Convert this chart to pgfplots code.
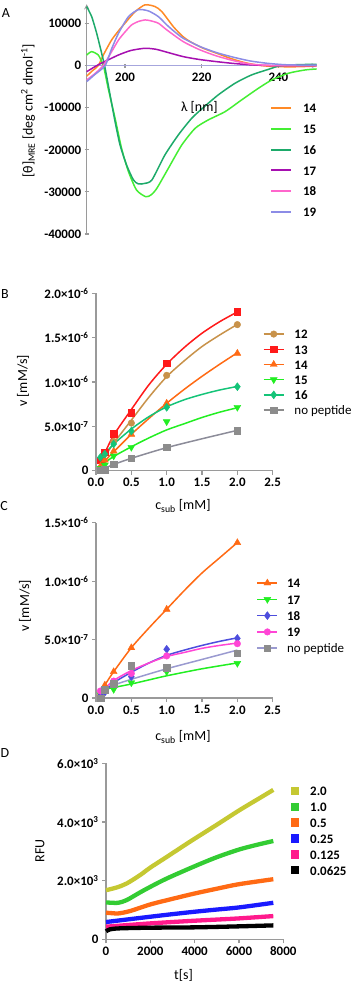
\documentclass[border=0pt]{standalone}
\usepackage{fontspec}
\setmainfont{Carlito}
\usepackage{pgfplots}
\pgfplotsset{compat=1.18}

% panel A
\definecolor{aA}{HTML}{FF8A26}
\definecolor{aB}{HTML}{44EE33}
\definecolor{aC}{HTML}{1DAA6A}
\definecolor{aD}{HTML}{A610B0}
\definecolor{aE}{HTML}{FF66CC}
\definecolor{aF}{HTML}{8C8CE6}
\definecolor{zeroline}{HTML}{A6A6DD}
% panels B, C
\definecolor{ctan}{HTML}{C8924A}
\definecolor{cred}{HTML}{FF1A1A}
\definecolor{corange}{HTML}{FF6A14}
\definecolor{cgreen}{HTML}{22EE22}
\definecolor{cteal}{HTML}{14C478}
\definecolor{cgray}{HTML}{8C8C8C}
\definecolor{cgrayline}{HTML}{8C8C99}
\definecolor{cblue}{HTML}{4D4DDD}
\definecolor{cpink}{HTML}{FF45D5}
\definecolor{clav}{HTML}{9A9AD0}
% panel D
\definecolor{dA}{HTML}{C5C832}
\definecolor{dB}{HTML}{33CC33}
\definecolor{dC}{HTML}{FF6A14}
\definecolor{dD}{HTML}{1A1AFF}
\definecolor{dE}{HTML}{FF1A8C}
\definecolor{dF}{HTML}{000000}
\definecolor{axgray}{HTML}{9A9A9A}

\newcommand{\tfont}{\fontsize{13}{13}\selectfont}
\newcommand{\lfont}{\fontsize{14}{14}\selectfont}

\pgfplotsset{
  prism/.style={
    scale only axis,
    anchor=south west,
    axis line style={draw=axgray, line width=1.3bp, -},
    every tick/.style={draw=axgray, line width=1.1bp},
    tick align=outside,
    major tick length=4bp,
    tick label style={font=\tfont\bfseries},
    label style={font=\lfont},
    scaled ticks=false,
    legend cell align=left,
    legend style={draw=none, fill=none, font=\tfont\bfseries, inner sep=0pt, outer sep=0pt,
      anchor=north west,
      nodes={inner sep=0pt, text height=9.5bp, text depth=0pt}},
    clip=false,
  },
  fitline/.style={line width=1.5bp, smooth, forget plot, mark=none},
  pts/.style={only marks, mark size=3.3bp, line width=0.4bp},
  mlegend/.style={legend image code/.code={
      \draw[##1, mark=none, line width=1.5bp] (0bp,0bp) -- (20bp,0bp);
      \draw[##1] plot coordinates {(10bp,0bp)};}},
  nopeplegend/.style={legend image code/.code={
      \draw[clav, line width=1.5bp] (0bp,0bp) -- (20bp,0bp);
      \draw[##1] plot coordinates {(10bp,0bp)};}},
}

\begin{document}
\begin{tikzpicture}
\path[use as bounding box] (0,0) rectangle (353bp,-982bp);

\node[font=\fontsize{14}{14}\selectfont] at (6bp,-13bp) {A};
\node[font=\fontsize{14}{14}\selectfont] at (5bp,-294bp) {B};
\node[font=\fontsize{14}{14}\selectfont] at (4bp,-506bp) {C};
\node[font=\fontsize{14}{14}\selectfont] at (5bp,-753bp) {D};

% ---------------- A: CD spectra
\begin{axis}[prism,
  at={(86.7bp,-234bp)}, width=230bp, height=229.8bp,
  xmin=190, xmax=250, ymin=-40000, ymax=14600,
  axis x line=middle, axis y line=left,
  x axis line style={draw=zeroline},
  hide obscured x ticks=false, hide obscured y ticks=false,
  xtick={200,220,240}, xticklabels={200,220,240},
  ytick={-40000,-30000,-20000,-10000,0,10000},
  yticklabels={-40000,-30000,-20000,-10000,0,10000},
  xticklabel style={yshift=-2bp},
  ylabel={[θ]\textsubscript{MRE} [deg cm\textsuperscript{2} dmol\textsuperscript{-1}]},
  ylabel style={at={(axis description cs:-0.255,0.536)}, anchor=center},
  legend style={at={(axis description cs:0.797,0.568)}, row sep=11.2bp, column sep=11bp},
  legend image code/.code={\draw[#1, line width=2bp] (0bp,0bp) -- (20bp,0bp);},
  every axis plot/.append style={line width=1.5bp, smooth, tension=0.4},
]
\addplot[aA] coordinates {(190,-2500) (191.5,-1200) (193,0) (194.5,2800) (196.5,6100) (198.5,8500) (200,10100) (202.6,12800) (205.2,14450) (207.8,14050) (209.6,12840) (212.6,9270) (215,7000) (217,5700) (220.4,4130) (223.9,2950) (227.4,1760) (230.9,800) (234.4,160) (237,-100) (240,-250) (245.7,-250) (250,-50)};
\addlegendentry{14}
\addplot[aB] coordinates {(190,2540) (191.3,3330) (193,2540) (193.9,950) (194.5,-500) (195.6,-5370) (197.4,-12500) (199.1,-19640) (200.9,-25190) (203,-29550) (205.4,-31140) (206.8,-30700) (208.3,-29150) (211.3,-24390) (214.8,-18850) (218.3,-14880) (221.7,-12900) (226.1,-10930) (230.4,-8150) (234.8,-5370) (238.3,-3400) (242.6,-1810) (247,-1020) (250,-790)};
\addlegendentry{15}
\addplot[aC] coordinates {(190,14030) (191.3,11650) (192.6,7700) (193.9,2950) (194.8,-620) (196.1,-6960) (197.4,-13300) (198.7,-18850) (200.4,-23600) (202.2,-27170) (203.5,-28100) (205,-28000) (207,-27170) (210.4,-21230) (213.9,-16470) (217.4,-12500) (220.5,-9900) (224.3,-6960) (228.7,-4180) (233,-2210) (238.3,-620) (240,-100) (244,200) (250,330)};
\addlegendentry{16}
\addplot[aD] coordinates {(190,-1430) (192.6,0) (195,1100) (198.3,2540) (201.5,3600) (205.2,4130) (208,3900) (210.4,3330) (215.2,2140) (219.5,1450) (223.9,950) (228,550) (232.6,200) (237,50) (240,0) (250,0)};
\addlegendentry{17}
\addplot[aE] coordinates {(190,-3400) (192,-2000) (194.3,0) (196.3,3000) (198.3,6100) (200,8000) (201.7,9670) (203.5,10500) (205.2,10860) (206.5,10700) (208.7,10080) (210.9,8490) (215.2,5700) (219.6,3730) (223.9,2300) (228.3,1190) (232.6,380) (237,80) (240,0) (250,0)};
\addlegendentry{18}
\addplot[aF] coordinates {(190,-3800) (192,-2200) (194.8,0) (196.5,4000) (198.3,7700) (200.9,11650) (203.5,13300) (206.1,13000) (208.7,11650) (210.9,9670) (213,8000) (215.2,6500) (219.6,4520) (223.9,3090) (228.3,2000) (232.6,1120) (237,570) (241.3,240) (245,150) (250,100)};
\addlegendentry{19}
\node[font=\lfont] at (axis description cs:0.49,0.553) {λ [nm]};
\end{axis}

% ---------------- B: rates, peptides 12-16
\begin{axis}[prism,
  at={(96bp,-470.7bp)}, width=176.7bp, height=177.4bp,
  xmin=0, xmax=2.5, ymin=0, ymax=2e-6,
  axis x line*=bottom, axis y line*=left,
  xtick={0,0.5,1,1.5,2,2.5}, xticklabels={0.0,0.5,1.0,1.5,2.0,2.5},
  ytick={0,5e-7,1e-6,1.5e-6,2e-6},
  yticklabels={0,5.0×10\textsuperscript{-7},1.0×10\textsuperscript{-6},1.5×10\textsuperscript{-6},2.0×10\textsuperscript{-6}},
  xlabel={c\textsubscript{sub} [mM]},
  xlabel style={at={(axis description cs:0.492,-0.199)}, anchor=center},
  ylabel={v [mM/s]},
  ylabel style={at={(axis description cs:-0.413,0.506)}, anchor=center},
  legend style={at={(axis description cs:0.945,0.797)}, row sep=5.7bp, column sep=10bp},
]
\addplot[fitline, ctan] coordinates {(0.0625,0.09e-6) (0.125,0.16e-6) (0.25,0.31e-6) (0.5,0.57e-6) (0.75,0.83e-6) (1.0,1.06e-6) (1.25,1.24e-6) (1.5,1.40e-6) (1.75,1.53e-6) (2.0,1.65e-6)};
\addplot[fitline, cred] coordinates {(0.0625,0.11e-6) (0.125,0.2e-6) (0.25,0.4e-6) (0.5,0.69e-6) (0.75,0.97e-6) (1.0,1.2e-6) (1.25,1.39e-6) (1.5,1.55e-6) (1.75,1.68e-6) (2.0,1.79e-6)};
\addplot[fitline, corange] coordinates {(0.0625,0.055e-6) (0.125,0.109e-6) (0.25,0.213e-6) (0.5,0.41e-6) (0.75,0.59e-6) (1.0,0.76e-6) (1.25,0.918e-6) (1.5,1.064e-6) (1.75,1.2e-6) (2.0,1.33e-6)};
\addplot[fitline, cgreen] coordinates {(0.0625,0.05e-6) (0.125,0.09e-6) (0.25,0.16e-6) (0.5,0.27e-6) (0.75,0.37e-6) (1.0,0.46e-6) (1.25,0.53e-6) (1.5,0.6e-6) (1.75,0.66e-6) (2.0,0.71e-6)};
\addplot[fitline, cteal] coordinates {(0.0625,0.15e-6) (0.125,0.19e-6) (0.25,0.3e-6) (0.5,0.47e-6) (0.75,0.61e-6) (1.0,0.72e-6) (1.25,0.8e-6) (1.5,0.86e-6) (1.75,0.91e-6) (2.0,0.95e-6)};
\addplot[fitline, cgrayline] coordinates {(0.0625,0.02e-6) (0.125,0.03e-6) (0.25,0.07e-6) (0.5,0.14e-6) (1.0,0.26e-6) (1.5,0.36e-6) (2.0,0.455e-6)};
\addplot[pts, mlegend, ctan, mark=*] coordinates {(0.0625,0.12e-6) (0.125,0.19e-6) (0.25,0.33e-6) (0.5,0.537e-6) (1.0,1.075e-6) (2.0,1.647e-6)};
\addlegendentry{12}
\addplot[pts, mlegend, cred, mark=square*] coordinates {(0.0625,0.12e-6) (0.125,0.21e-6) (0.25,0.42e-6) (0.5,0.654e-6) (1.0,1.21e-6) (2.0,1.793e-6)};
\addlegendentry{13}
\addplot[pts, mlegend, corange, mark=triangle*, mark size=4bp] coordinates {(0.0625,0.05e-6) (0.125,0.12e-6) (0.25,0.22e-6) (0.5,0.41e-6) (1.0,0.76e-6) (2.0,1.323e-6)};
\addlegendentry{14}
\addplot[pts, mlegend, cgreen, mark=triangle*, mark size=4bp, every mark/.append style={rotate=180}] coordinates {(0.0625,0.027e-6) (0.125,0.064e-6) (0.25,0.166e-6) (0.5,0.264e-6) (1.0,0.553e-6) (2.0,0.715e-6)};
\addlegendentry{15}
\addplot[pts, mlegend, cteal, mark=diamond*, mark size=4bp] coordinates {(0.0625,0.15e-6) (0.125,0.188e-6) (0.25,0.3e-6) (0.5,0.447e-6) (1.0,0.715e-6) (2.0,0.947e-6)};
\addlegendentry{16}
\addplot[pts, mlegend, cgray, mark=square*] coordinates {(0.0625,0.005e-6) (0.125,0.01e-6) (0.25,0.075e-6) (0.5,0.14e-6) (1.0,0.264e-6) (2.0,0.451e-6)};
\addlegendentry{\mdseries no peptide}
\end{axis}

% ---------------- C: rates, peptides 14, 17-19
\begin{axis}[prism,
  at={(96bp,-698bp)}, width=176.7bp, height=175.3bp,
  xmin=0, xmax=2.5, ymin=0, ymax=1.5e-6,
  axis x line*=bottom, axis y line*=left,
  xtick={0,0.5,1,1.5,2,2.5}, xticklabels={0.0,0.5,1.0,1.5,2.0,2.5},
  ytick={0,5e-7,1e-6,1.5e-6},
  yticklabels={0,5.0×10\textsuperscript{-7},1.0×10\textsuperscript{-6},1.5×10\textsuperscript{-6}},
  xlabel={c\textsubscript{sub} [mM]},
  xlabel style={at={(axis description cs:0.492,-0.222)}, anchor=center},
  ylabel={v [mM/s]},
  ylabel style={at={(axis description cs:-0.402,0.525)}, anchor=center},
  legend style={at={(axis description cs:0.909,0.683)}, row sep=6.8bp, column sep=9bp},
]
\addplot[fitline, corange] coordinates {(0.0625,0.04e-6) (0.125,0.11e-6) (0.25,0.225e-6) (0.5,0.43e-6) (0.75,0.6e-6) (1.0,0.76e-6) (1.25,0.92e-6) (1.5,1.07e-6) (1.75,1.2e-6) (2.0,1.33e-6)};
\addplot[fitline, cgreen] coordinates {(0.125,0.075e-6) (0.25,0.09e-6) (0.5,0.12e-6) (0.75,0.155e-6) (1.0,0.19e-6) (1.5,0.25e-6) (2.0,0.3e-6)};
\addplot[fitline, clav] coordinates {(0.125,0.07e-6) (0.25,0.11e-6) (0.5,0.16e-6) (1.0,0.25e-6) (1.5,0.33e-6) (2.0,0.41e-6)};
\addplot[fitline, cblue] coordinates {(0.125,0.05e-6) (0.25,0.13e-6) (0.5,0.22e-6) (0.75,0.3e-6) (1.0,0.365e-6) (1.25,0.41e-6) (1.5,0.45e-6) (1.75,0.485e-6) (2.0,0.515e-6)};
\addplot[fitline, cpink] coordinates {(0.125,0.08e-6) (0.25,0.15e-6) (0.5,0.235e-6) (0.75,0.3e-6) (1.0,0.355e-6) (1.25,0.39e-6) (1.5,0.425e-6) (1.75,0.45e-6) (2.0,0.47e-6)};
\addplot[pts, mlegend, corange, mark=triangle*, mark size=4bp] coordinates {(0.0625,0.035e-6) (0.125,0.11e-6) (0.25,0.225e-6) (0.5,0.43e-6) (1.0,0.759e-6) (2.0,1.329e-6)};
\addlegendentry{14}
\addplot[pts, mlegend, cgreen, mark=triangle*, mark size=4bp, every mark/.append style={rotate=180}] coordinates {(0.0625,0.03e-6) (0.125,0.06e-6) (0.25,0.074e-6) (0.5,0.131e-6) (1.0,0.225e-6) (2.0,0.297e-6)};
\addlegendentry{17}
\addplot[pts, mlegend, cblue, mark=diamond*, mark size=4bp] coordinates {(0.0625,0.02e-6) (0.125,0.05e-6) (0.25,0.12e-6) (0.5,0.183e-6) (1.0,0.417e-6) (2.0,0.51e-6)};
\addlegendentry{18}
\addplot[pts, mlegend, cpink, mark=*] coordinates {(0.0625,0.06e-6) (0.125,0.07e-6) (0.25,0.145e-6) (0.5,0.21e-6) (1.0,0.36e-6) (2.0,0.465e-6)};
\addlegendentry{19}
\addplot[pts, nopeplegend, cgray, mark=square*] coordinates {(0.0625,0.0) (0.125,0.07e-6) (0.25,0.12e-6) (0.5,0.276e-6) (1.0,0.26e-6) (2.0,0.382e-6)};
\addlegendentry{\mdseries no peptide}
\end{axis}

% ---------------- D: fluorescence traces
\begin{axis}[prism,
  at={(106bp,-939.3bp)}, width=177.3bp, height=176bp,
  xmin=0, xmax=8000, ymin=0, ymax=6000,
  axis x line*=bottom, axis y line*=left,
  xtick={0,2000,4000,6000,8000}, xticklabels={0,2000,4000,6000,8000},
  ytick={0,2000,4000,6000},
  yticklabels={0,2.0×10\textsuperscript{3},4.0×10\textsuperscript{3},6.0×10\textsuperscript{3}},
  xlabel={t[s]},
  xlabel style={at={(axis description cs:0.437,-0.203)}, anchor=center},
  ylabel={RFU},
  ylabel style={at={(axis description cs:-0.372,0.502)}, anchor=center},
  legend style={at={(axis description cs:1.043,0.871)}, row sep=6.4bp, column sep=11bp},
  legend image code/.code={\fill[#1] (-2bp,-2bp) rectangle (2bp,2bp);},
  every axis plot/.append style={line width=4.3bp, smooth, tension=0.5},
]
\addplot[dA] coordinates {(0,1675) (480,1766) (930,1902) (1530,2185) (2000,2445) (2740,2808) (3490,3181) (4000,3430) (5000,3906) (6000,4392) (6800,4755) (7550,5094)};
\addlegendentry{2.0}
\addplot[dB] coordinates {(0,1257) (300,1245) (560,1245) (930,1336) (1530,1596) (2000,1789) (2740,2072) (4000,2491) (5000,2800) (6000,3060) (6800,3220) (7550,3351)};
\addlegendentry{1.0}
\addplot[dC] coordinates {(0,906) (300,890) (560,883) (1080,962) (2000,1189) (3000,1380) (4000,1562) (5000,1725) (6000,1879) (7550,2049)};
\addlegendentry{0.5}
\addplot[dD] coordinates {(0,589) (1000,680) (2000,770) (3000,858) (4000,940) (5000,1015) (6000,1087) (7550,1245)};
\addlegendentry{0.25}
\addplot[dE] coordinates {(0,430) (1000,488) (2000,543) (3000,590) (4000,634) (5000,673) (6000,713) (7550,792)};
\addlegendentry{0.125}
\addplot[dF] coordinates {(0,272) (180,340) (630,374) (2000,396) (4000,408) (6000,442) (7550,475)};
\addlegendentry{0.0625}
\end{axis}
\end{tikzpicture}
\end{document}
